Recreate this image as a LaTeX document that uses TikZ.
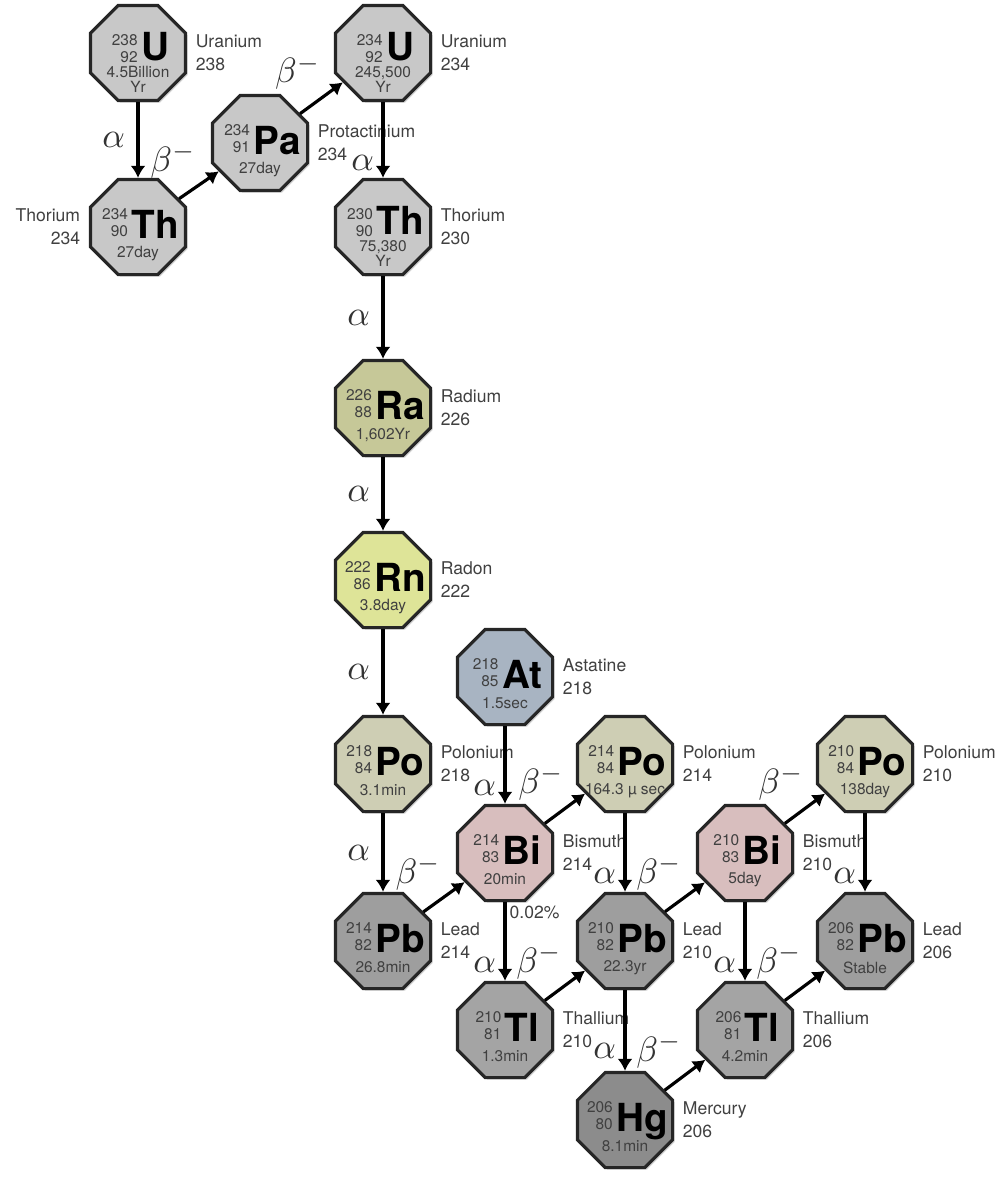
\documentclass[tikz,border=0pt]{standalone}
\usepackage{fontspec}
\setmainfont{TeX Gyre Heros}
\usetikzlibrary{shapes.geometric,arrows.meta,positioning,shadows}

\definecolor{grayU}{RGB}{200,200,200}
\definecolor{raC}{RGB}{198,200,152}
\definecolor{rnC}{RGB}{222,228,152}
\definecolor{atC}{RGB}{168,180,194}
\definecolor{poC}{RGB}{206,206,180}
\definecolor{biC}{RGB}{216,190,190}
\definecolor{pbC}{RGB}{158,158,158}
\definecolor{tlC}{RGB}{164,164,164}
\definecolor{hgC}{RGB}{140,140,140}

\tikzset{
  octa/.style={regular polygon, regular polygon sides=8, minimum size=1.03cm,
    inner sep=0pt, draw=black!85, line width=0.9pt,
    drop shadow={shadow xshift=0.6pt, shadow yshift=-0.6pt, opacity=0.35}},
  sym/.style={font=\fontsize{11}{12}\selectfont\bfseries, inner sep=0pt, anchor=base},
  massno/.style={font=\fontsize{4.4}{4.8}\selectfont, text=black!75, inner sep=0pt, align=right, anchor=east},
  life/.style={font=\fontsize{4.4}{4.2}\selectfont, text=black!75, inner sep=0pt, align=center},
  elname/.style={font=\fontsize{5}{6.5}\selectfont, text=black!75, inner sep=0pt, align=left},
  decay/.style={->, line width=0.9pt},
  lbl/.style={font=\fontsize{10}{10}\selectfont, text=black!80, inner sep=1pt},
}

% one nuclide: [symbol baseline], name, position, fill, A, Z, symbol, half-life
\newcommand{\nuclide}[8][-0.11cm]{%
  \node[octa, fill=#4] (#2) at (#3) {};
  \node[sym] (#2-sym) at ([xshift=0.17cm, yshift=#1]#2.center) {#7};
  \path (#2-sym.west |- #2.center) ++(-0.02,0.04) node[massno] (#2-az) {#5\\#6};
  \node[life] (#2-hl) at ([yshift=-0.265cm]#2.center) {#8};
}

\begin{document}
\begin{tikzpicture}[>={Latex[length=1.2mm,width=1.5mm]}]
\useasboundingbox (0,0) rectangle (10.03,-11.98);

\nuclide[-0.07cm]{u238}{1.38,-0.53}{grayU}{238}{92}{U}{4.5Billion\\Yr}
\nuclide{th234}{1.38,-2.27}{grayU}{234}{90}{Th}{27day}
\nuclide{pa234}{2.60,-1.43}{grayU}{234}{91}{Pa}{27day}
\nuclide[-0.07cm]{u234}{3.83,-0.53}{grayU}{234}{92}{U}{245,500\\Yr}
\nuclide[-0.07cm]{th230}{3.83,-2.27}{grayU}{230}{90}{Th}{75,380\\Yr}
\nuclide{ra226}{3.83,-4.08}{raC}{226}{88}{Ra}{1,602Yr}
\nuclide{rn222}{3.83,-5.80}{rnC}{222}{86}{Rn}{3.8day}
\nuclide{at218}{5.05,-6.77}{atC}{218}{85}{At}{1.5sec}
\nuclide{po218}{3.83,-7.64}{poC}{218}{84}{Po}{3.1min}
\nuclide{po214}{6.25,-7.64}{poC}{214}{84}{Po}{164.3 µ sec}
\nuclide{bi214}{5.05,-8.53}{biC}{214}{83}{Bi}{20min}
\nuclide{pb214}{3.83,-9.41}{pbC}{214}{82}{Pb}{26.8min}
\nuclide{pb210}{6.25,-9.41}{pbC}{210}{82}{Pb}{22.3yr}
\nuclide{tl210}{5.05,-10.30}{tlC}{210}{81}{Tl}{1.3min}
\nuclide{bi210}{7.45,-8.53}{biC}{210}{83}{Bi}{5day}
\nuclide{po210}{8.65,-7.64}{poC}{210}{84}{Po}{138day}
\nuclide{pb206}{8.65,-9.41}{pbC}{206}{82}{Pb}{Stable}
\nuclide{tl206}{7.45,-10.30}{tlC}{206}{81}{Tl}{4.2min}
\nuclide{hg206}{6.25,-11.20}{hgC}{206}{80}{Hg}{8.1min}

% element names beside the octagons
\node[elname, right=0.08cm of u238] (u238-nm) {Uranium\\238};
\node[elname, align=right, left=0.08cm of th234] (th234-nm) {Thorium\\234};
\node[elname, right=0.08cm of pa234] (pa234-nm) {Protactinium\\234};
\node[elname, right=0.08cm of u234] (u234-nm) {Uranium\\234};
\node[elname, right=0.08cm of th230] (th230-nm) {Thorium\\230};
\node[elname, right=0.08cm of ra226] (ra226-nm) {Radium\\226};
\node[elname, right=0.08cm of rn222] (rn222-nm) {Radon\\222};
\node[elname, right=0.08cm of at218] (at218-nm) {Astatine\\218};
\node[elname, right=0.08cm of po218] (po218-nm) {Polonium\\218};
\node[elname, right=0.08cm of po214] (po214-nm) {Polonium\\214};
\node[elname, right=0.08cm of bi214] (bi214-nm) {Bismuth\\214};
\node[elname, right=0.08cm of pb214] (pb214-nm) {Lead\\214};
\node[elname, right=0.08cm of pb210] (pb210-nm) {Lead\\210};
\node[elname, right=0.08cm of tl210] (tl210-nm) {Thallium\\210};
\node[elname, right=0.08cm of bi210] (bi210-nm) {Bismuth\\210};
\node[elname, right=0.08cm of po210] (po210-nm) {Polonium\\210};
\node[elname, right=0.08cm of pb206] (pb206-nm) {Lead\\206};
\node[elname, right=0.08cm of tl206] (tl206-nm) {Thallium\\206};
\node[elname, right=0.08cm of hg206] (hg206-nm) {Mercury\\206};
\node[elname, anchor=north west] (bi214-br) at ([xshift=0.04cm, yshift=-0.03cm]bi214.south) {0.02\%};

% decays
\draw[decay] (u238) -- node[lbl, left=0.08cm] {$\alpha$} (th234);
\draw[decay] (th234) -- node[lbl, above left=0pt, pos=0.55] {$\beta^-$} (pa234);
\draw[decay] (pa234) -- node[lbl, above left=0pt, pos=0.6] {$\beta^-$} (u234);
\draw[decay] (u234) -- node[lbl, left=0.04cm, pos=0.8] {$\alpha$} (th230);
\draw[decay] (th230) -- node[lbl, left=0.08cm] {$\alpha$} (ra226);
\draw[decay] (ra226) -- node[lbl, left=0.08cm] {$\alpha$} (rn222);
\draw[decay] (rn222) -- node[lbl, left=0.08cm] {$\alpha$} (po218);
\draw[decay] (po218) -- node[lbl, left=0.08cm] {$\alpha$} (pb214);
\draw[decay] (at218) -- node[lbl, left=0.04cm, pos=0.8] {$\alpha$} (bi214);
\draw[decay] (pb214) -- node[lbl, above left=0pt, pos=0.55] {$\beta^-$} (bi214);
\draw[decay] (bi214) -- node[lbl, above left=0pt, pos=0.6] {$\beta^-$} (po214);
\draw[decay] (bi214) -- node[lbl, left=0.04cm, pos=0.8] {$\alpha$} (tl210);
\draw[decay] (po214) -- node[lbl, left=0.04cm, pos=0.8] {$\alpha$} (pb210);
\draw[decay] (tl210) -- node[lbl, above left=0pt, pos=0.55] {$\beta^-$} (pb210);
\draw[decay] (pb210) -- node[lbl, above left=0pt, pos=0.55] {$\beta^-$} (bi210);
\draw[decay] (pb210) -- node[lbl, left=0.04cm, pos=0.75] {$\alpha$} (hg206);
\draw[decay] (bi210) -- node[lbl, above left=0pt, pos=0.6] {$\beta^-$} (po210);
\draw[decay] (bi210) -- node[lbl, left=0.04cm, pos=0.8] {$\alpha$} (tl206);
\draw[decay] (po210) -- node[lbl, left=0.04cm, pos=0.8] {$\alpha$} (pb206);
\draw[decay] (hg206) -- node[lbl, above left=0pt, pos=0.55] {$\beta^-$} (tl206);
\draw[decay] (tl206) -- node[lbl, above left=0pt, pos=0.55] {$\beta^-$} (pb206);
\end{tikzpicture}
\end{document}
